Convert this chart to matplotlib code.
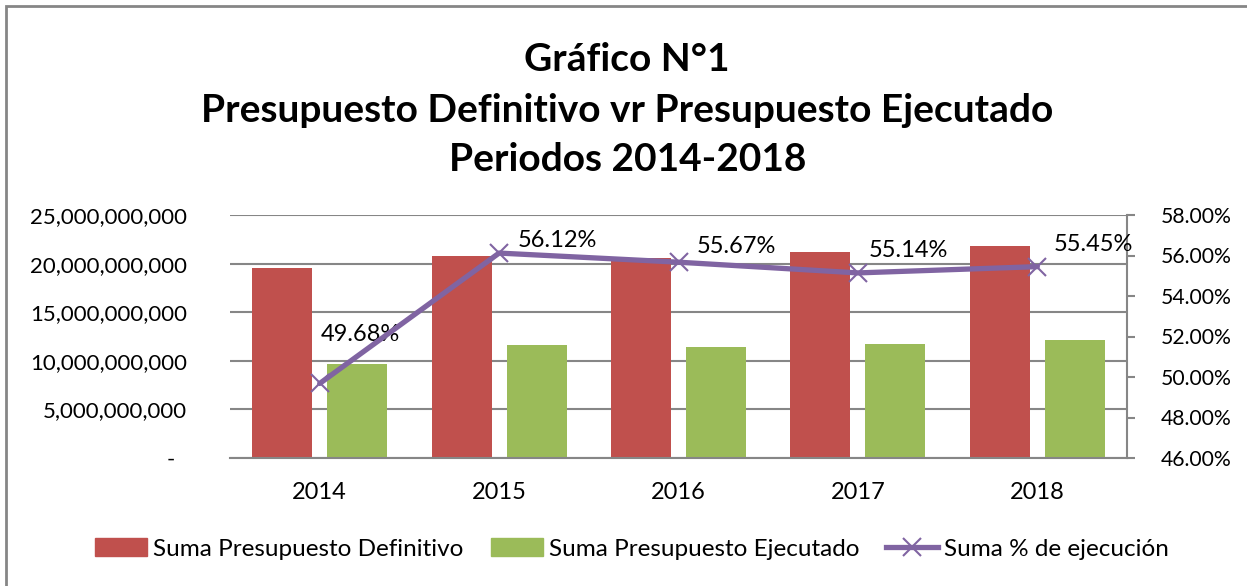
import numpy as np
import matplotlib.pyplot as plt
from matplotlib.patches import Rectangle
from matplotlib.lines import Line2D
from matplotlib.ticker import FuncFormatter

plt.rcParams['font.family'] = ['Lato', 'DejaVu Sans']

# datos
anios = ['2014', '2015', '2016', '2017', '2018']
definitivo = [19.52e9, 20.81e9, 20.60e9, 21.22e9, 21.84e9]
ejecutado = [9.67e9, 11.63e9, 11.45e9, 11.69e9, 12.10e9]
pct_ejec = [49.68, 56.12, 55.67, 55.14, 55.45]
# desplazamiento de las etiquetas (px) respecto al marcador
off_etq = [(1, 49), (19, 13), (18, 16), (11, 22), (16, 22)]

rojo = '#C0504D'
verde = '#9BBB59'
morado = '#8064A2'
gris = '#868686'

fig = plt.figure(figsize=(12.47, 5.86), dpi=100)
ax = fig.add_axes([230/1247, 128/586, 897/1247, 243/586])
ax2 = ax.twinx()

x = np.arange(len(anios))
w = 0.334
ax.bar(x - 0.209, definitivo, w, color=rojo, zorder=2)
ax.bar(x + 0.209, ejecutado, w, color=verde, zorder=2)

ax.set_xlim(-0.5, len(anios) - 0.5)
ax.set_ylim(0, 25e9)
ax.set_yticks(np.arange(0, 25e9 + 1, 5e9))
ax.yaxis.set_major_formatter(FuncFormatter(lambda v, p: '-  ' if v == 0 else '{:,.0f}'.format(v)))
ax.set_xticks(x)
ax.set_xticklabels(anios)
ax.grid(axis='y', color=gris, linewidth=1.5, zorder=0)
ax.set_axisbelow(True)
for s in ['top', 'left', 'right']:
    ax.spines[s].set_visible(False)
ax.spines['bottom'].set_color(gris)
ax.spines['bottom'].set_linewidth(1.5)
ax.tick_params(axis='y', length=0, pad=31, labelsize=16)
ax.tick_params(axis='x', length=0, pad=17, labelsize=17)

ax2.plot(x, pct_ejec, color=morado, linewidth=3.8, marker='x', markersize=13,
         markeredgewidth=1.5, zorder=5, solid_capstyle='round')
ax2.set_ylim(46, 58)
ax2.set_yticks(np.arange(46, 58.1, 2))
ax2.yaxis.set_major_formatter(FuncFormatter(lambda v, p: '{:.2f}%'.format(v)))
for s in ['top', 'left', 'bottom']:
    ax2.spines[s].set_visible(False)
ax2.spines['right'].set_color(gris)
ax2.spines['right'].set_linewidth(1.5)
ax2.tick_params(axis='y', length=6, width=1.5, color=gris, pad=18, labelsize=15.2)

for xi, v, (dx, dy) in zip(x, pct_ejec, off_etq):
    ax2.annotate('{:.2f}%'.format(v), (xi, v), xytext=(dx * 0.72, dy * 0.72),
                 textcoords='offset points', ha='left', va='center', fontsize=17)

titulos = ['Gráfico N°1', 'Presupuesto Definitivo vr Presupuesto Ejecutado', 'Periodos 2014-2018']
for t, yt in zip(titulos, [0.899, 0.812, 0.727]):
    fig.text(0.503, yt, t, ha='center', va='center', fontsize=28, fontweight='bold')

handles = [Rectangle((0, 0), 1, 1, color=rojo), Rectangle((0, 0), 1, 1, color=verde),
           Line2D([], [], color=morado, linewidth=3.8, marker='x', markersize=13, markeredgewidth=1.5)]
labels = ['Suma Presupuesto Definitivo', 'Suma Presupuesto Ejecutado', 'Suma % de ejecución']
fig.legend(handles, labels, loc='center', bbox_to_anchor=(0.507, 0.063), ncol=3, frameon=False,
           fontsize=17.5, handlelength=2.15, handleheight=0.75, handletextpad=0.25, columnspacing=1.1)

fig.patches.append(Rectangle((6/1247, -0.1), 1.2, (580/586) + 0.1, transform=fig.transFigure,
                             fill=False, edgecolor=gris, linewidth=2))

fig.savefig('out.png', dpi=100)
